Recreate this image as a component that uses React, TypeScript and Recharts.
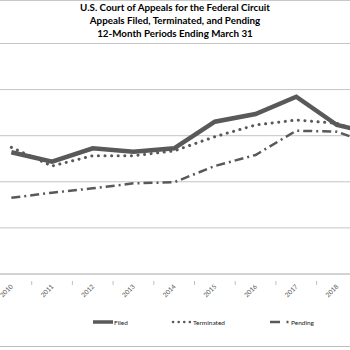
import React from "react";
import { LineChart, Line, XAxis, YAxis, CartesianGrid } from "recharts";

const years = ["2010", "2011", "2012", "2013", "2014", "2015", "2016", "2017", "2018", "2019"];
const filed = [1320, 1218, 1363, 1327, 1363, 1652, 1735, 1923, 1616, 1513];
const terminated = [1374, 1171, 1283, 1283, 1335, 1489, 1616, 1670, 1634, 1475];
const pending = [827, 882, 929, 983, 995, 1171, 1291, 1554, 1543, 1388];
const titleLines = [
  "U.S. Court of Appeals for the Federal Circuit",
  "Appeals Filed, Terminated, and Pending",
  "12-Month Periods Ending March 31",
];

const data = years.map((y, i) => ({
  i,
  year: y,
  filed: filed[i],
  terminated: terminated[i],
  pending: pending[i],
}));

const xTicks: number[] = [];
for (let k = -0.5; k <= years.length - 0.5 + 1e-9; k += 0.5) xTicks.push(k);

const FONT = "Lato, 'Open Sans', sans-serif";
const DARK = "#595959";

const XTick = (props: any) => {
  const { x, y, payload } = props;
  const v = payload.value;
  if (Math.abs(v - Math.round(v)) < 1e-6) {
    const idx = Math.round(v);
    if (idx >= 9) return <g />;
    const label = years[idx] ?? "";
    return (
      <g transform={`translate(${x + 2},${y + 5})`}>
        <text
          x={0}
          y={0}
          transform="rotate(-45)"
          textAnchor="end"
          fontSize={6.5}
          fontFamily={FONT}
          fill={DARK}
        >
          {label}
        </text>
      </g>
    );
  }
  return <line x1={x} x2={x} y1={y - 1} y2={y + 3} stroke="#bfbfbf" strokeWidth={1} />;
};

export default function App() {
  return (
    <div
      style={{
        position: "absolute",
        left: 0,
        top: 0,
        width: 350,
        height: 350,
        overflow: "hidden",
        background: "#fff",
        fontFamily: FONT,
      }}
    >
      <div
        style={{
          position: "absolute",
          left: -2,
          top: 0,
          width: 354,
          height: 347,
          borderTop: "1px solid #c8c8c8",
          borderBottom: "1px solid #bfbfbf",
          boxSizing: "border-box",
        }}
      />
      <div
        style={{
          position: "absolute",
          left: 0,
          top: 0.5,
          width: 350,
          textAlign: "center",
          fontWeight: 700,
          fontSize: 9.8,
          lineHeight: "13px",
          color: "#000",
        }}
      >
        {titleLines.map((t) => (
          <div key={t}>{t}</div>
        ))}
      </div>
      <div style={{ position: "absolute", left: -20, top: 0 }}>
        <LineChart
          width={420}
          height={320}
          data={data}
          margin={{ top: 43.5, right: 2, bottom: 16, left: 11 }}
        >
          <CartesianGrid vertical={false} stroke="#c4c4c4" strokeWidth={1} />
          <XAxis
            dataKey="i"
            type="number"
            domain={[-0.5, years.length - 0.5]}
            ticks={xTicks}
            interval={0}
            tick={<XTick />}
            tickLine={false}
            axisLine={{ stroke: "#c4c4c4" }}
            height={30}
          />
          <YAxis hide domain={[0, 2500]} ticks={[0, 500, 1000, 1500, 2000, 2500]} />
          <Line
            dataKey="pending"
            stroke={DARK}
            strokeWidth={2.5}
            strokeDasharray="9 4 2 4"
            dot={false}
            isAnimationActive={false}
          />
          <Line
            dataKey="terminated"
            stroke={DARK}
            strokeWidth={3}
            strokeDasharray="0.1 6.5"
            strokeLinecap="round"
            dot={false}
            isAnimationActive={false}
          />
          <Line
            dataKey="filed"
            stroke={DARK}
            strokeWidth={4.5}
            dot={false}
            isAnimationActive={false}
          />
        </LineChart>
      </div>
      <svg
        width={350}
        height={30}
        style={{ position: "absolute", left: 0, top: 308 }}
      >
        <line x1={93} x2={113} y1={14} y2={14} stroke={DARK} strokeWidth={3.5} />
        <text x={114} y={16.5} fontSize={6.5} fontFamily={FONT} fill="#222">
          Filed
        </text>
        <line
          x1={173}
          x2={191}
          y1={14}
          y2={14}
          stroke={DARK}
          strokeWidth={2.5}
          strokeDasharray="0.1 5.5"
          strokeLinecap="round"
        />
        <text x={193} y={16.5} fontSize={6.5} fontFamily={FONT} fill="#222">
          Terminated
        </text>
        <line x1={270} x2={280} y1={14} y2={14} stroke={DARK} strokeWidth={2.5} />
        <line x1={286.5} x2={288.5} y1={14} y2={14} stroke={DARK} strokeWidth={2.5} />
        <text x={291} y={16.5} fontSize={6.5} fontFamily={FONT} fill="#222">
          Pending
        </text>
      </svg>
    </div>
  );
}
